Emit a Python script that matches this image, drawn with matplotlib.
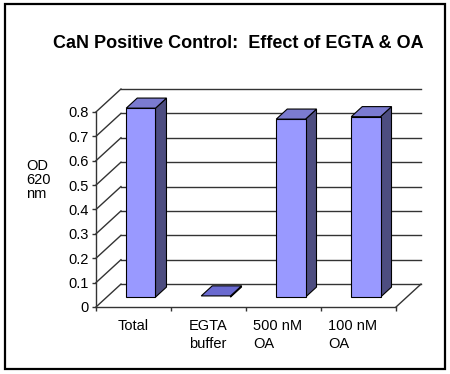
import matplotlib
matplotlib.use('Agg')
import matplotlib.pyplot as plt
from matplotlib.patches import Polygon, Rectangle
from matplotlib.transforms import ScaledTranslation
import numpy as np

plt.rcParams['font.family'] = ['Liberation Sans', 'DejaVu Sans']

# chart data
categories = ['Total', 'EGTA\nbuffer', '500 nM\nOA', '100 nM\nOA']
od_values = [0.775, 0.005, 0.73, 0.74]
y_ticks = [0, 0.1, 0.2, 0.3, 0.4, 0.5, 0.6, 0.7, 0.8]
y_tick_labels = ['0', '0.1', '0.2', '0.3', '0.4', '0.5', '0.6', '0.7', '0.8']

# fake 3d look (offsets in data units)
ddx = 0.333          # depth shift along x (category units)
ddy = 0.094          # depth shift along y (value units)
f0, f1 = 0.43, 0.87  # bar front / back depth fraction
bar_w = 0.39
front_col = '#9999FF'
top_col = '#7B7BD0'
side_col = '#4D4D80'
grid_col = '#333333'

fig = plt.figure(figsize=(4.5, 3.74), dpi=100)
ax = fig.add_axes([96 / 450, 67 / 374, 325 / 450, 218 / 374])
ax.set_xlim(0, len(categories) + ddx)
ax.set_ylim(0, y_ticks[-1] + ddy)

# back wall gridlines + left wall diagonals
for v in y_ticks:
    ax.plot([ddx, len(categories) + ddx], [v + ddy, v + ddy], color=grid_col, lw=1.0, clip_on=False, zorder=1)
    ax.plot([0, ddx], [v, v + ddy], color=grid_col, lw=1.0, clip_on=False, zorder=1)
# right edge of the floor
ax.plot([len(categories), len(categories) + ddx], [0, ddy], color=grid_col, lw=1.0, clip_on=False, zorder=1)

# bars
for i, v in enumerate(od_values):
    xc = i + 0.5 - 0.045
    x0 = xc - bar_w / 2 + f0 * ddx
    x1 = xc + bar_w / 2 + f0 * ddx
    b = f0 * ddy
    t = v + f0 * ddy
    sx = (f1 - f0) * ddx
    sy = (f1 - f0) * ddy
    side = Polygon([(x1, b), (x1, t), (x1 + sx, t + sy), (x1 + sx, b + sy)],
                   closed=True, facecolor=side_col, edgecolor='black', lw=0.8, zorder=3, clip_on=False)
    top = Polygon([(x0, t), (x1, t), (x1 + sx, t + sy), (x0 + sx, t + sy)],
                  closed=True, facecolor=top_col if v > 0.01 else '#6A6AD0', edgecolor='black', lw=0.8, zorder=3, clip_on=False)
    front = Rectangle((x0, b), x1 - x0, v, facecolor=front_col, edgecolor='black', lw=0.8, zorder=4, clip_on=False)
    ax.add_patch(side)
    ax.add_patch(top)
    if v > 0.01:
        ax.add_patch(front)

# axes styling
for s in ['top', 'right']:
    ax.spines[s].set_visible(False)
ax.spines['left'].set_bounds(0, y_ticks[-1])
ax.spines['bottom'].set_bounds(0, len(categories))
ax.spines['left'].set_color(grid_col)
ax.spines['bottom'].set_color(grid_col)
ax.spines['left'].set_linewidth(1.0)
ax.spines['bottom'].set_linewidth(1.0)
ax.patch.set_visible(False)

ax.set_yticks(y_ticks)
ax.set_yticklabels(y_tick_labels, fontsize=10.5)
ax.tick_params(axis='y', direction='out', length=3, width=1.0, pad=2, color=grid_col)

ax.set_xticks(np.arange(len(categories) + 1))
ax.set_xticklabels([])
ax.set_xticks(np.arange(len(categories)) + 0.5, minor=True)
ax.set_xticklabels(categories, minor=True, fontsize=10.5, linespacing=1.35)
ax.tick_params(axis='x', which='major', direction='out', length=3, width=1.0, color=grid_col)
ax.tick_params(axis='x', which='minor', length=0, pad=9)
# the OA labels sit a bit left of their category centre in the original
shift = ScaledTranslation(-6 / 100, 0, fig.dpi_scale_trans)
for lbl in ax.get_xticklabels(minor=True):
    lbl.set_multialignment('left')
    if 'OA' in lbl.get_text():
        lbl.set_transform(lbl.get_transform() + shift)

fig.text(26 / 450, 1 - 180 / 374, 'OD\n620\nnm', fontsize=10.5, ha='left', va='center', linespacing=1.0)
fig.text(238 / 450, 1 - 43 / 374, 'CaN Positive Control:  Effect of EGTA & OA',
         fontsize=13, fontweight='bold', ha='center', va='center')

# outer frame
fig.patches.append(Rectangle((5 / 450, 5 / 374), 440 / 450, 365 / 374, transform=fig.transFigure,
                             fill=False, edgecolor='black', lw=1.6))

fig.savefig('out.png', dpi=100)
